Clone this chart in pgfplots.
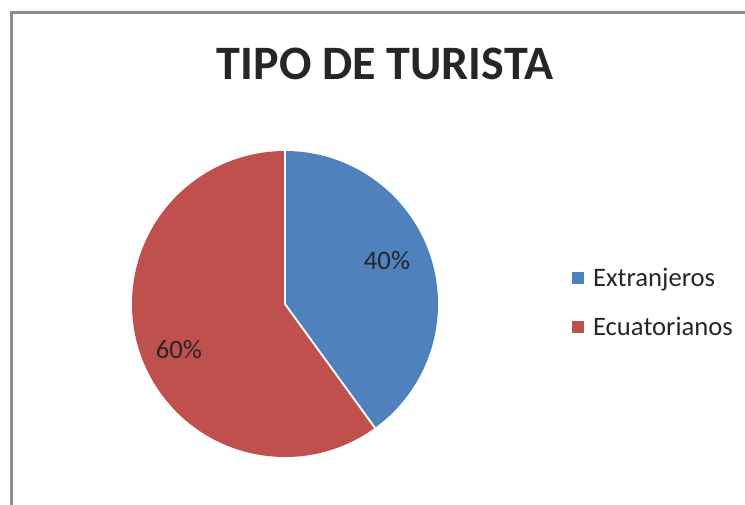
\documentclass[border=0pt]{standalone}
\usepackage{pgfplots}
\usepackage{pgfplotstable}
\pgfplotsset{compat=1.18}
\usepackage{fontspec}
\setmainfont{Carlito}
\definecolor{mblue}{HTML}{4F81BD}
\definecolor{mred}{HTML}{C0504D}
\definecolor{txt}{HTML}{262626}
\definecolor{frame}{HTML}{8C8C8C}
\pgfplotstableread{
label value
Extranjeros 40
Ecuatorianos 60
}\piedata
\begin{document}
\begin{tikzpicture}[x=0.75pt,y=0.75pt]
\useasboundingbox (0,0) rectangle (745,504);
\clip (0,0) rectangle (745,504);
\pgfplotstablegetelem{0}{value}\of\piedata
\pgfmathtruncatemacro\va{\pgfplotsretval}
\pgfplotstablegetelem{1}{value}\of\piedata
\pgfmathtruncatemacro\vb{\pgfplotsretval}
\pgfmathsetmacro\angA{90-3.6*\va}
\pgfmathsetmacro\angB{\angA-3.6*\vb}
\begin{axis}[at={(0,0)}, anchor=south west, scale only axis,
  width=558.75pt, height=378pt, xmin=0, xmax=745, ymin=0, ymax=504,
  hide axis, clip=false,
  legend style={draw=none, fill=none, font=\fontsize{20}{24}\selectfont\color{txt},
    at={(axis description cs:0.767,0.399)}, anchor=west, row sep=17.5pt,
    inner sep=0pt, cells={anchor=west},
    /tikz/every odd column/.append style={column sep=5pt}},
  legend image code/.code={\fill[#1] (0pt,-4.5pt) rectangle (9pt,4.5pt);}]
% frame
\draw[frame, line width=1.6pt] (axis cs:11.5,-20) -- (axis cs:11.5,491.5) -- (axis cs:800,491.5);
% slices
\fill[mblue] (axis cs:285,200) -- (axis cs:285,353) arc[start angle=90, end angle=\angA, radius=114.75pt] -- cycle;
\fill[mred] (axis cs:285,200) -- +(\angA:114.75pt) arc[start angle=\angA, end angle=\angB, radius=114.75pt] -- cycle;
\draw[white, line width=1.4pt] (axis cs:285,353) -- (axis cs:285,200) -- +(\angA:114.75pt);
% labels
\node[font=\fontsize{20}{24}\selectfont, text=txt] at (axis cs:387,243) {\va\%};
\node[font=\fontsize{20}{24}\selectfont, text=txt] at (axis cs:179,154) {\vb\%};
% title
\node[font=\bfseries\fontsize{36}{43}\selectfont, text=txt, anchor=base] at (axis cs:385,424) {TIPO DE TURISTA};
\addlegendimage{fill=mblue, draw=none}
\addlegendentry{Extranjeros}
\addlegendimage{fill=mred, draw=none}
\addlegendentry{Ecuatorianos}
\end{axis}
\end{tikzpicture}
\end{document}
